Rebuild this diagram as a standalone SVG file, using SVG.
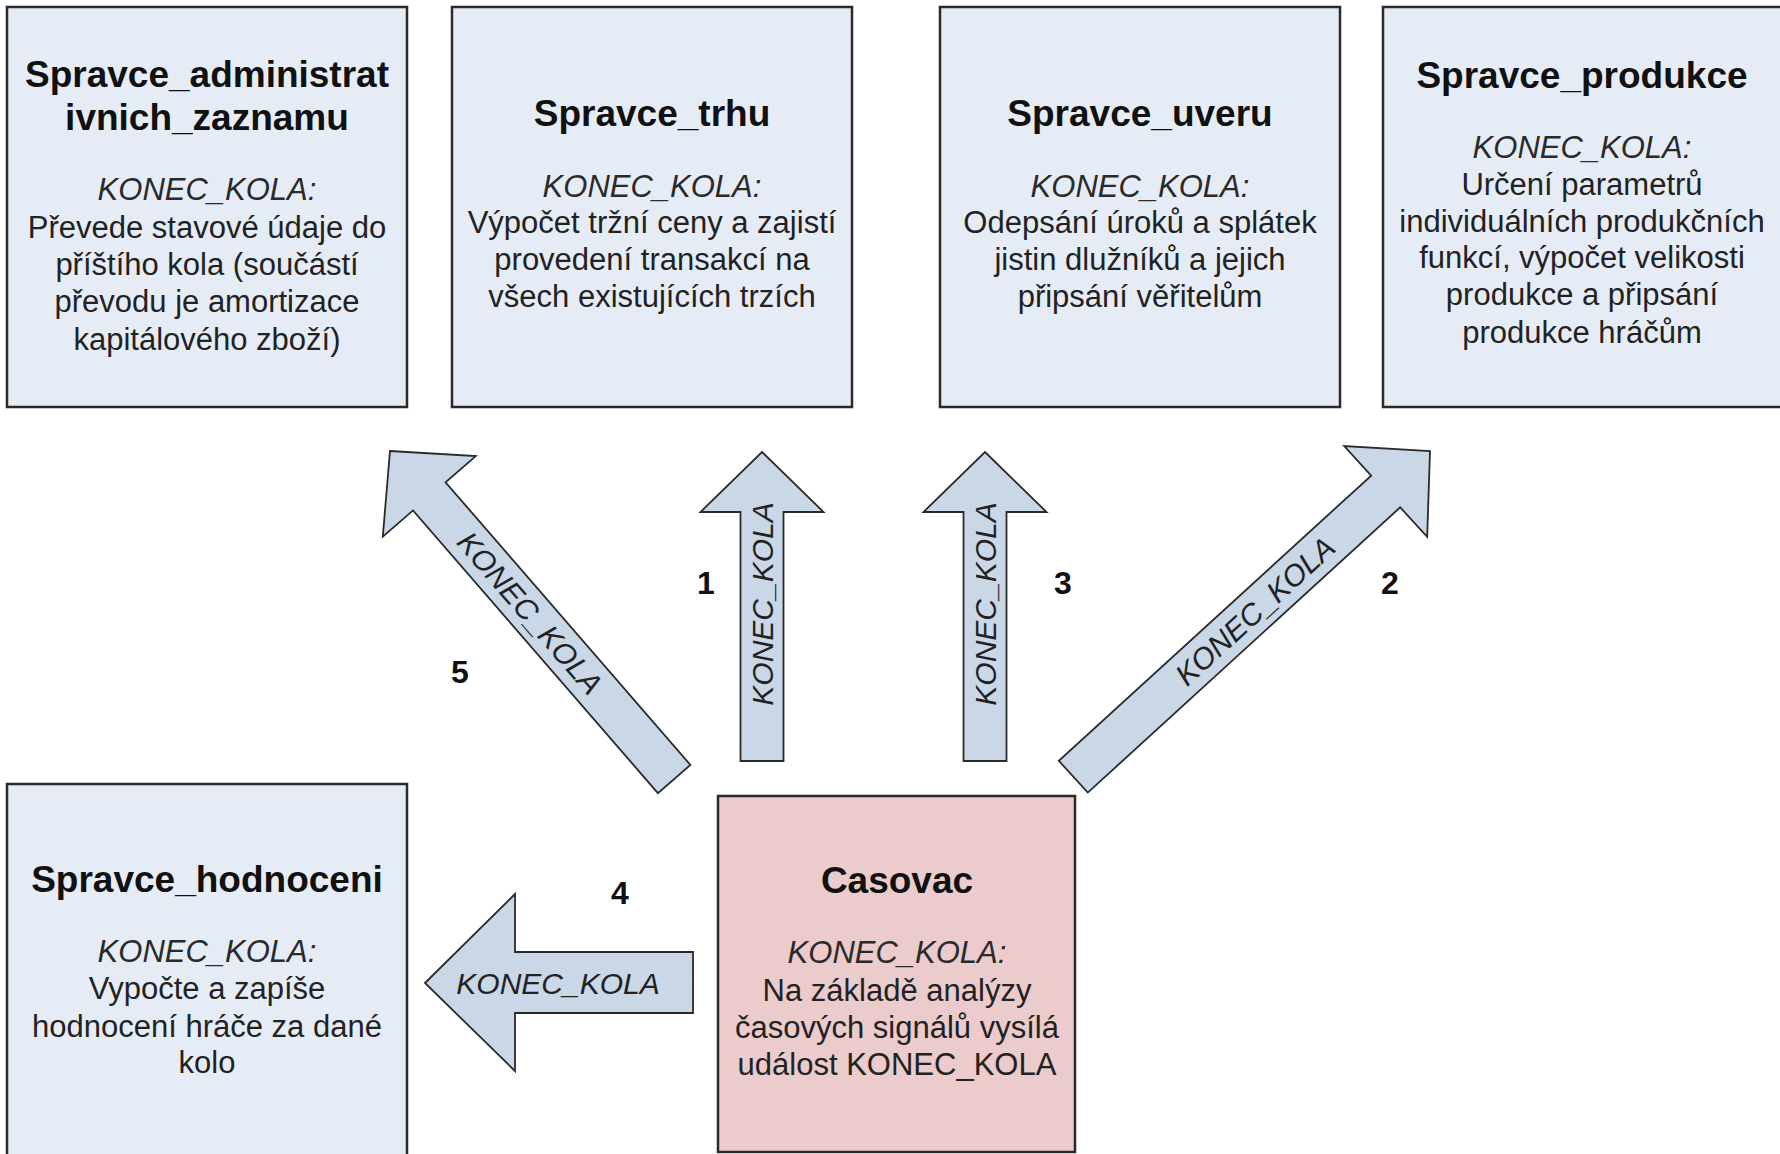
<svg xmlns="http://www.w3.org/2000/svg" width="1780" height="1154" viewBox="0 0 1780 1154">
<defs>
<style>
.box{fill:#E6ECF6;stroke:#2a2a2a;stroke-width:2.5}
.timer{fill:#EBCBCB;stroke:#2a2a2a;stroke-width:2.5}
.arr{fill:#C9D7E7;stroke:#2a2a2a;stroke-width:1.8;stroke-linejoin:miter}
text{font-family:"Liberation Sans",Arial,sans-serif;text-anchor:middle}
.t{font-size:37px;font-weight:bold;fill:#111}
.k{font-size:31px;font-style:italic;fill:#2a2a2a}
.b{font-size:31px;fill:#222}
.al{font-size:30px;font-style:italic;fill:#222;dominant-baseline:central}
.n{font-size:32px;font-weight:bold;fill:#111}
</style>
<path id="upArrow309" d="M0,0 L61.5,60 L21.5,60 L21.5,309 L-21.5,309 L-21.5,60 L-61.5,60 Z"/>
</defs>
<rect width="1780" height="1154" fill="#ffffff"/>

<g id="connectors">
  <use href="#upArrow309" class="arr" transform="translate(762,452)"/>
  <use href="#upArrow309" class="arr" transform="translate(985,452)"/>
  <path class="arr" transform="translate(1430,451) rotate(47.6)" d="M0,0 L61.5,60 L21.5,60 L21.5,483 L-21.5,483 L-21.5,60 L-61.5,60 Z"/>
  <path class="arr" transform="translate(390,451) rotate(-40.9)" d="M0,0 L61.5,60 L21.5,60 L21.5,434 L-21.5,434 L-21.5,60 L-61.5,60 Z"/>
  <path class="arr" d="M425,983 L515,894 L515,952 L693,952 L693,1013 L515,1013 L515,1071 Z"/>
  <text class="al" transform="translate(762,604) rotate(-90)">KONEC_KOLA</text>
  <text class="al" transform="translate(985,604) rotate(-90)">KONEC_KOLA</text>
  <text class="al" transform="translate(1255,611) rotate(-42.4)">KONEC_KOLA</text>
  <text class="al" transform="translate(530,613) rotate(49.1)">KONEC_KOLA</text>
  <text class="al" x="558" y="983">KONEC_KOLA</text>
  <text class="n" x="706" y="594">1</text>
  <text class="n" x="1063" y="594">3</text>
  <text class="n" x="1390" y="594">2</text>
  <text class="n" x="460" y="683">5</text>
  <text class="n" x="620" y="904">4</text>
</g>

<g id="spravce_administrativnich_zaznamu">
  <rect class="box" x="7" y="7" width="400" height="400"/>
  <text class="t" x="207" y="87">Spravce_administrat</text>
  <text class="t" x="207" y="130">ivnich_zaznamu</text>
  <text class="k" x="207" y="200">KONEC_KOLA:</text>
  <text class="b" x="207" y="238">Převede stavové údaje do</text>
  <text class="b" x="207" y="275">příštího kola (součástí</text>
  <text class="b" x="207" y="312">převodu je amortizace</text>
  <text class="b" x="207" y="350">kapitálového zboží)</text>
</g>

<g id="spravce_trhu">
  <rect class="box" x="452" y="7" width="400" height="400"/>
  <text class="t" x="652" y="126">Spravce_trhu</text>
  <text class="k" x="652" y="197">KONEC_KOLA:</text>
  <text class="b" x="652" y="233">Výpočet tržní ceny a zajistí</text>
  <text class="b" x="652" y="270">provedení transakcí na</text>
  <text class="b" x="652" y="307">všech existujících trzích</text>
</g>

<g id="spravce_uveru">
  <rect class="box" x="940" y="7" width="400" height="400"/>
  <text class="t" x="1140" y="126">Spravce_uveru</text>
  <text class="k" x="1140" y="197">KONEC_KOLA:</text>
  <text class="b" x="1140" y="233">Odepsání úroků a splátek</text>
  <text class="b" x="1140" y="270">jistin dlužníků a jejich</text>
  <text class="b" x="1140" y="307">připsání věřitelům</text>
</g>

<g id="spravce_produkce">
  <rect class="box" x="1383" y="7" width="400" height="400"/>
  <text class="t" x="1582" y="88">Spravce_produkce</text>
  <text class="k" x="1582" y="158">KONEC_KOLA:</text>
  <text class="b" x="1582" y="195">Určení parametrů</text>
  <text class="b" x="1582" y="232">individuálních produkčních</text>
  <text class="b" x="1582" y="268">funkcí, výpočet velikosti</text>
  <text class="b" x="1582" y="305">produkce a připsání</text>
  <text class="b" x="1582" y="343">produkce hráčům</text>
</g>

<g id="spravce_hodnoceni">
  <rect class="box" x="7" y="784" width="400" height="400"/>
  <text class="t" x="207" y="892">Spravce_hodnoceni</text>
  <text class="k" x="207" y="962">KONEC_KOLA:</text>
  <text class="b" x="207" y="999">Vypočte a zapíše</text>
  <text class="b" x="207" y="1037">hodnocení hráče za dané</text>
  <text class="b" x="207" y="1073">kolo</text>
</g>

<g id="casovac">
  <rect class="timer" x="718" y="796" width="357" height="356"/>
  <text class="t" x="897" y="893">Casovac</text>
  <text class="k" x="897" y="963">KONEC_KOLA:</text>
  <text class="b" x="897" y="1001">Na základě analýzy</text>
  <text class="b" x="897" y="1038">časových signálů vysílá</text>
  <text class="b" x="897" y="1075">událost KONEC_KOLA</text>
</g>
</svg>
